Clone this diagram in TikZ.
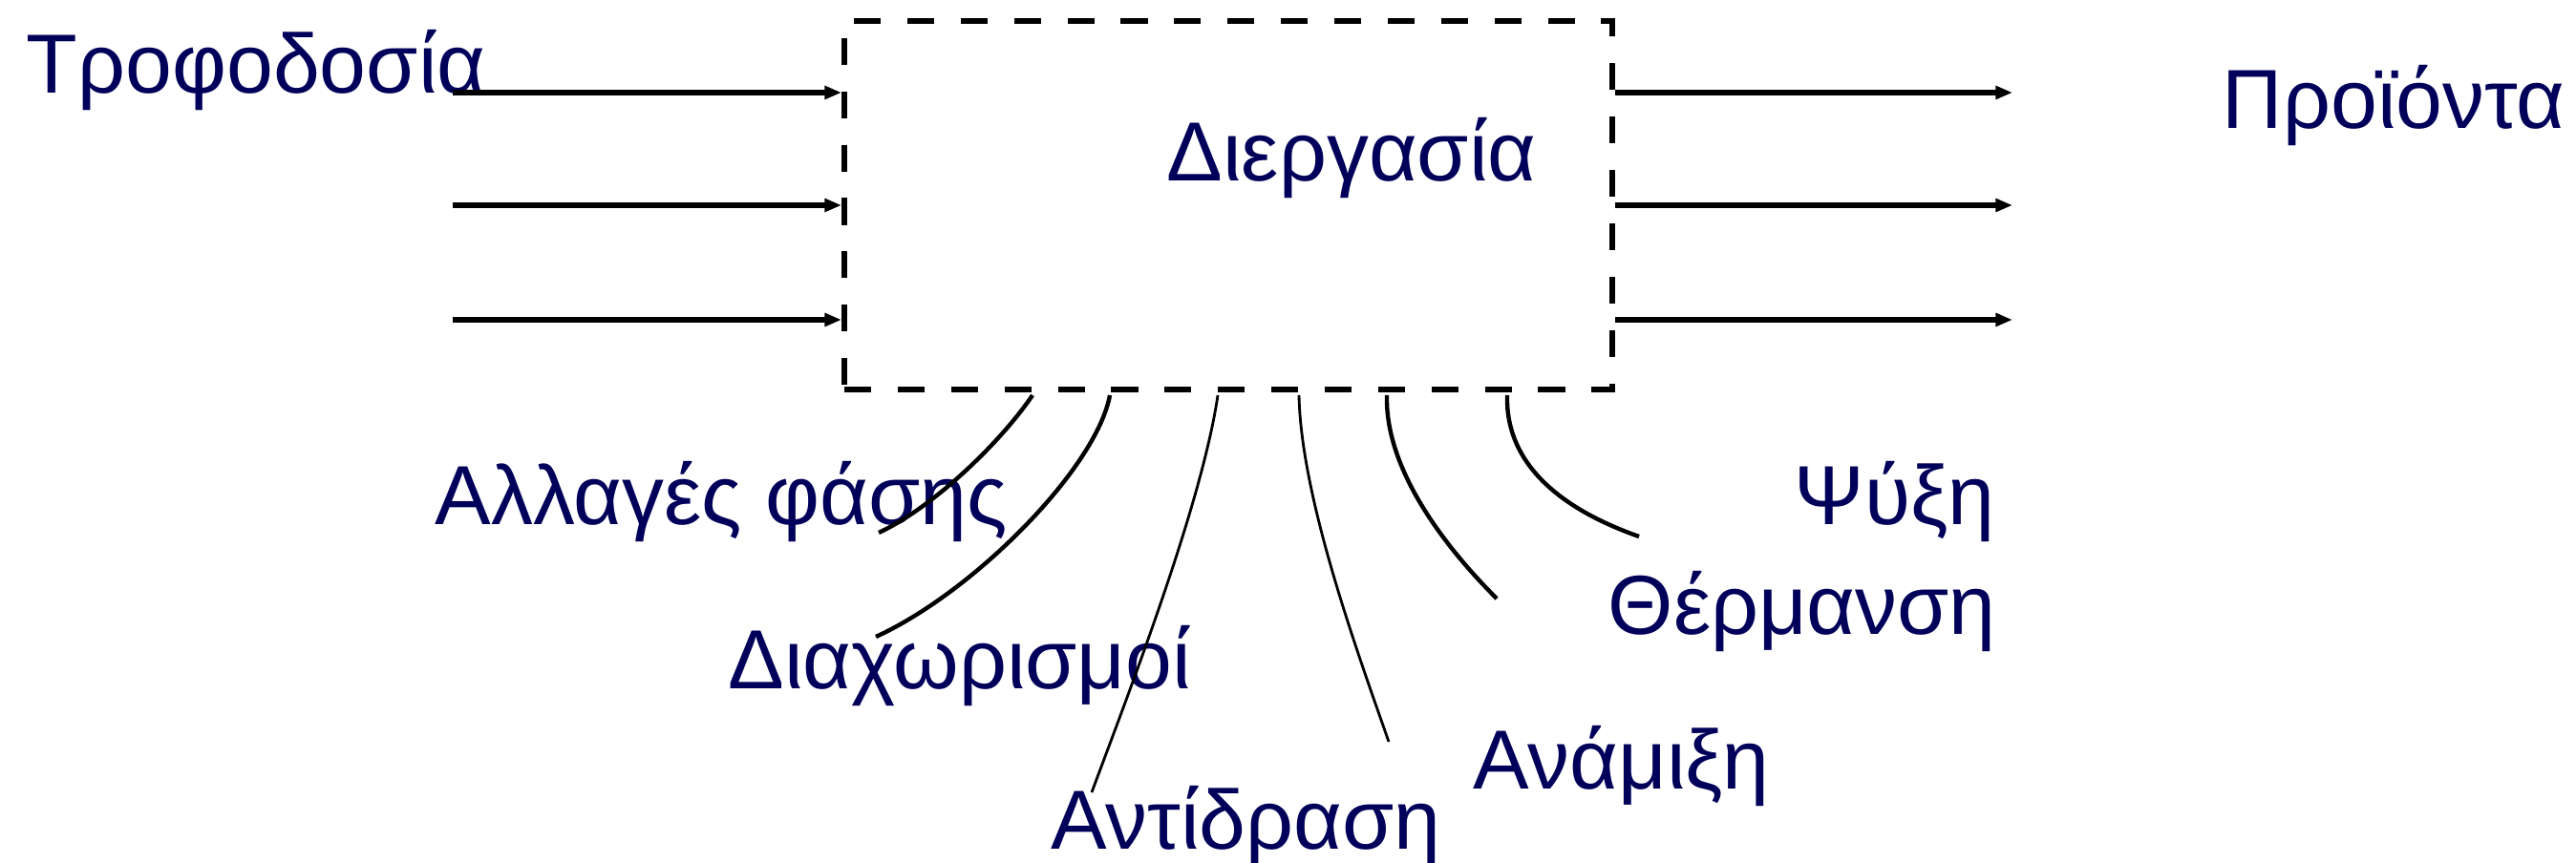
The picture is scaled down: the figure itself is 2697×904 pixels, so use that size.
\documentclass[tikz,border=0pt]{standalone}
\usepackage{fontspec}
\setmainfont{Liberation Sans}
\usetikzlibrary{arrows.meta}
\definecolor{txt}{RGB}{0,0,90}
\begin{document}
\begin{tikzpicture}[x=0.1mm,y=-0.1mm,
  lbl/.style={text=txt,font=\fontsize{25}{30}\selectfont,inner sep=0pt,anchor=base west},
  flow/.style={line width=1.5pt,-{Triangle[length=5pt,width=3.8pt]}},
  link/.style={line width=1.25pt},
  thinlink/.style={line width=0.8pt},
  procbox/.style={draw,line width=1.7pt,dash pattern=on 8pt off 7.9pt,
    minimum width=80.4mm,minimum height=38.6mm,inner sep=0pt}]
\useasboundingbox (0,0) rectangle (2697,904);
\node[procbox] (proc) at (1286,215) {};
% labels
\node[lbl] (feed) at (27,98) {Τροφοδοσία};
\node[lbl] (dier) at (1221,190) {Διεργασία};
\node[lbl] (prod) at (2326,135) {Προϊόντα};
\node[lbl] (phase) at (455,550) {Αλλαγές φάσης};
\node[lbl] (sep) at (762,722) {Διαχωρισμοί};
\node[lbl] (react) at (1100,890) {Αντίδραση};
\node[lbl] (mix) at (1542,827) {Ανάμιξη};
\node[lbl] (heat) at (1683,665) {Θέρμανση};
\node[lbl] (cool) at (1878,550) {Ψύξη};
% inputs
\coordinate (i1) at (474,97);
\coordinate (i2) at (474,215);
\coordinate (i3) at (474,335);
\draw[flow] (i1) -- (i1 -| proc.west);
\draw[flow] (i2) -- (i2 -| proc.west);
\draw[flow] (i3) -- (i3 -| proc.west);
% outputs
\coordinate (o1) at (2107,97);
\coordinate (o2) at (2107,215);
\coordinate (o3) at (2107,335);
\draw[flow] (o1 -| proc.east) -- (o1);
\draw[flow] (o2 -| proc.east) -- (o2);
\draw[flow] (o3 -| proc.east) -- (o3);
% operations
\coordinate (s1) at (1081,414); \coordinate (e1) at (920,558);
\coordinate (s2) at (1162,414); \coordinate (e2) at (917,667);
\coordinate (s3) at (1275,414); \coordinate (e3) at (1143,830);
\coordinate (s4) at (1360,414); \coordinate (e4) at (1454,777);
\coordinate (s5) at (1452,414); \coordinate (e5) at (1567,627);
\coordinate (s6) at (1578,414); \coordinate (e6) at (1716,562);
\draw[link] (s1) .. controls (1050,460) and (980,530) .. (e1);
\draw[link] (s2) .. controls (1148,490) and (1020,620) .. (e2);
\draw[thinlink] (s3) .. controls (1258,530) and (1180,730) .. (e3);
\draw[thinlink] (s4) .. controls (1362,520) and (1420,680) .. (e4);
\draw[link] (s5) .. controls (1450,490) and (1510,570) .. (e5);
\draw[link] (s6) .. controls (1576,480) and (1625,530) .. (e6);
\end{tikzpicture}
\end{document}
